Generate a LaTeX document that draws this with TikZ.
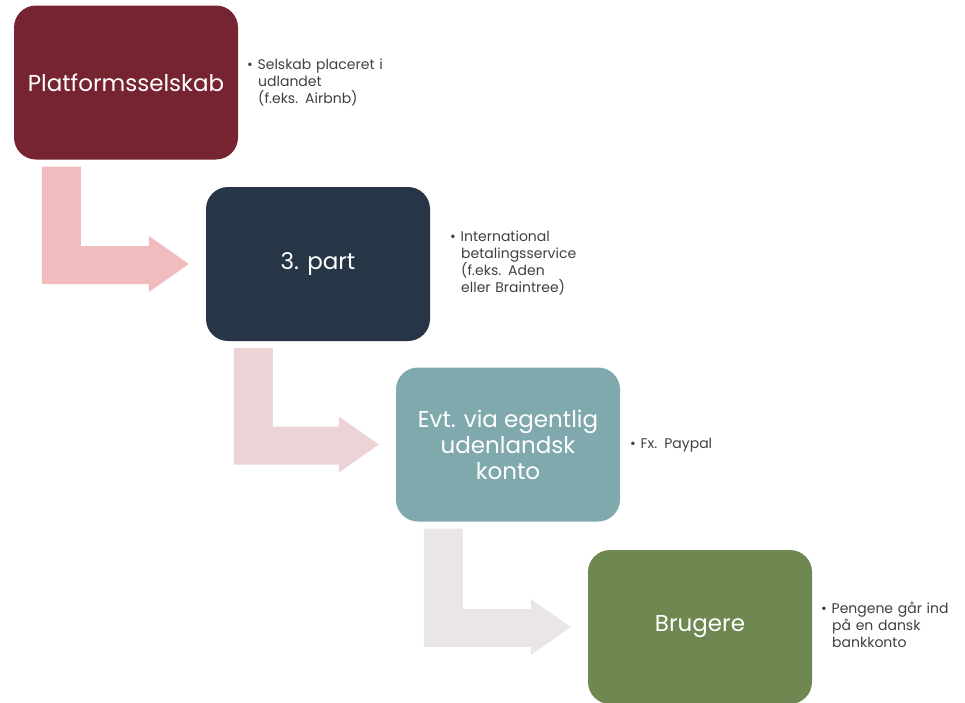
\documentclass[tikz,border=0pt]{standalone}
\usepackage{fontspec}
\setmainfont{Poppins}
\usetikzlibrary{calc}
\definecolor{cA}{HTML}{772432}
\definecolor{cB}{HTML}{263646}
\definecolor{cC}{HTML}{80A9AE}
\definecolor{cD}{HTML}{6F8852}
\definecolor{aA}{HTML}{F2BBBE}
\definecolor{aB}{HTML}{ECD3D6}
\definecolor{aC}{HTML}{EAE6E5}
\definecolor{txt}{HTML}{404040}
\tikzset{
  stepbox/.style={rounded corners=22pt, minimum width=224pt, minimum height=154pt, inner sep=0pt,
    text=white, align=center, font=\fontsize{23}{26}\selectfont},
  note/.style={anchor=north west, inner sep=0pt, text=txt, align=left, text width=145pt,
    font=\fontsize{14}{17}\selectfont},
}
\newcommand{\bentarrow}[3]{%
  % #1 from node, #2 to node, #3 colour
  \fill[#3] ($(#1.south west)+(28,-7)$) -- ($(#1.south west)+(67,-7)$)
    |- ($(#2.west)+(-57,18)$) -- ($(#2.west)+(-57,28)$)
    -- ($(#2.west)+(-17,0)$) -- ($(#2.west)+(-57,-28)$)
    -- ($(#2.west)+(-57,-20)$) -| cycle;}
\newcommand{\ind}{\hspace*{11pt}}
\begin{document}
\begin{tikzpicture}[x=1pt,y=1pt]
\useasboundingbox (0,0) rectangle (965,-702);
\node[stepbox, fill=cA] (b1) at (126,-82.5) {Platformsselskab};
\node[stepbox, fill=cB] (b2) at (318,-264) {3. part};
\node[stepbox, fill=cC] (b3) at (508,-444.5) {Evt. via egentlig\\udenlandsk\\konto};
\node[stepbox, fill=cD] (b4) at (700,-627) {Brugere};
\bentarrow{b1}{b2}{aA}
\bentarrow{b2}{b3}{aB}
\bentarrow{b3}{b4}{aC}
\node[note] (n1) at (247,-59) {\textbullet\ Selskab placeret i\\\ind udlandet\\\ind (f.eks. Airbnb)};
\node[note] (n2) at (450,-231) {\textbullet\ International\\\ind betalingsservice\\\ind (f.eks. Aden\\\ind eller Braintree)};
\node[note] (n3) at (630,-438) {\textbullet\ Fx. Paypal};
\node[note] (n4) at (821,-602) {\textbullet\ Pengene går ind\\\ind på en dansk\\\ind bankkonto};
\end{tikzpicture}
\end{document}
